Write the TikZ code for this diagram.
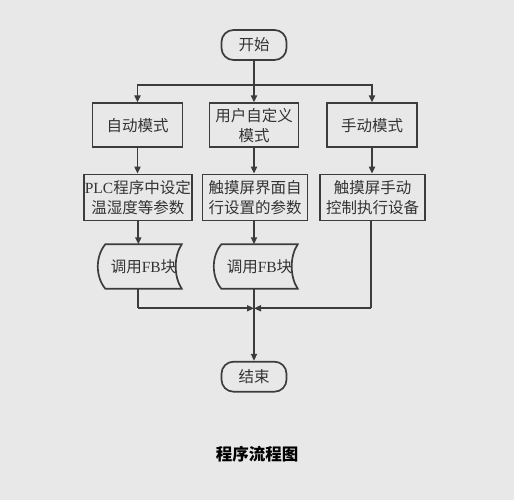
\documentclass[tikz,border=0pt]{standalone}
\usepackage{fontspec}
\setmainfont{Liberation Serif}
\newfontfamily\cjk{Noto Sans CJK SC}
\usetikzlibrary{arrows.meta}
\definecolor{bg}{HTML}{E8E8E8}
\definecolor{ln}{HTML}{3C3C3C}
\definecolor{tx}{HTML}{333333}
\tikzset{
  box/.style={draw=ln, line width=1.7pt, fill=bg, text=tx, minimum height=44pt, inner sep=1pt, align=center, font=\fontsize{15.5}{20}\selectfont},
  term/.style={box, rounded corners=12pt, minimum width=65pt, minimum height=30pt},
  fbshape/.style={text=tx, minimum width=76pt, minimum height=44pt, inner sep=0pt, font=\fontsize{15.5}{20}\selectfont},
  arr/.style={draw=ln, line width=1.7pt, -{Triangle[length=7pt,width=6pt]}},
  ln/.style={draw=ln, line width=1.7pt},
}
\begin{document}
\begin{tikzpicture}[x=1pt,y=-1pt]
\useasboundingbox[fill=bg] (0,0) rectangle (514,500);
% start
\node[term] (start) at (254,45) {\cjk 开始};
\coordinate (split) at (254,85);
% row 1
\node[box, minimum width=90pt] (a1) at (137.5,125.3) {\cjk 自动模式};
\node[box, minimum width=89pt] (b1) at (254,125.3) {\cjk 用户自定义\\\cjk 模式};
\node[box, minimum width=90pt] (c1) at (372,125.3) {\cjk 手动模式};
% row 2
\node[box, minimum width=105pt, minimum height=46pt] (a2) at (137.8,197.5) {PLC{\cjk 程序中设定}\\\cjk 温湿度等参数};
\node[box, minimum width=105pt, minimum height=46pt] (b2) at (255,197.5) {\cjk 触摸屏界面自\\\cjk 行设置的参数};
\node[box, minimum width=105pt, minimum height=46pt] (c2) at (372.5,197.5) {\cjk 触摸屏手动\\\cjk 控制执行设备};
% row 3 (stored data shapes)
\node[fbshape] (a3) at (143.5,266.5) {{\cjk 调用}FB{\cjk 块}};
\node[fbshape] (b3) at (259.5,266.5) {{\cjk 调用}FB{\cjk 块}};
\foreach \n in {a3,b3}{
  \draw[ln] (\n.north west) .. controls +(-10,12) and +(-10,-12) .. (\n.south west)
    -- (\n.south east) .. controls +(-8,-12) and +(-8,12) .. (\n.north east) -- cycle;
}
% merge and end
\coordinate (mleft) at (138.3,308.3);
\coordinate (mright) at (371,308.3);
\coordinate (mid) at (254,308.3);
\node[term] (end) at (254,376.7) {\cjk 结束};
% connectors
\draw[ln] (start.south) -- (split);
\draw[arr] (split) -- (b1.north);
\draw[arr] (split) -| (a1.north);
\draw[arr] (split) -| (c1.north);
\draw[arr] (a1.south) -- (a1.south |- a2.north);
\draw[arr] (b1.south) -- (b1.south |- b2.north);
\draw[arr] (c1.south) -- (c1.south |- c2.north);
\draw[arr] (a2.south -| mleft) -- (mleft |- a3.north);
\draw[arr] (b2.south -| mid) -- (mid |- b3.north);
\draw[ln] (mleft |- a3.south) -- (mleft);
\draw[arr] (mleft) -- (mid);
\draw[ln] (c2.south -| mright) -- (mright);
\draw[arr] (mright) -- (mid);
\draw[arr] (mid |- b3.south) -- (end.north);
% caption
\node[font=\cjk\bfseries\fontsize{16.5}{19}\selectfont, text=black] (cap) at (257,454) {程序流程图};
\end{tikzpicture}
\end{document}
